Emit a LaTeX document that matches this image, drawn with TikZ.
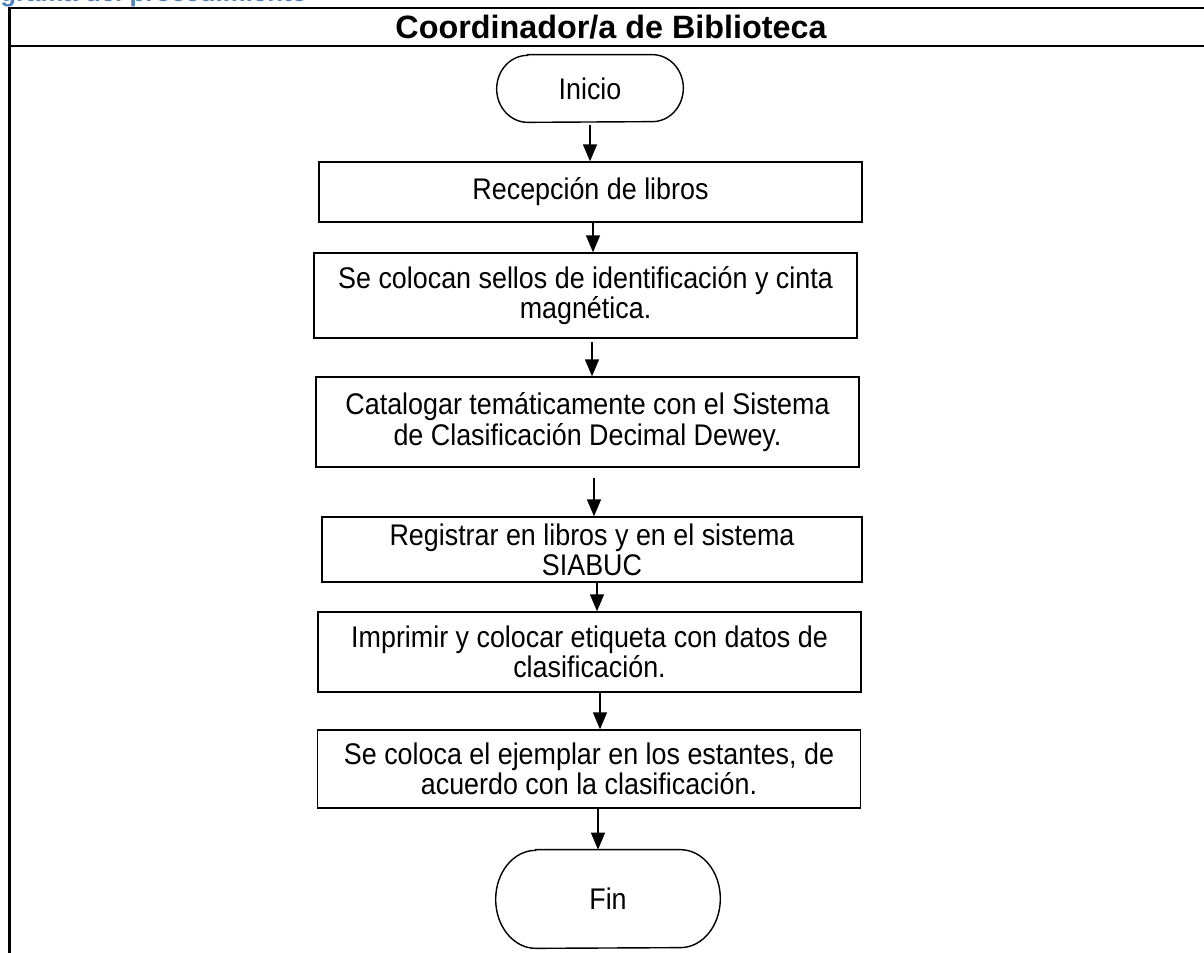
\documentclass[tikz,border=0pt]{standalone}
\usepackage{fontspec}
\setmainfont{Liberation Sans}
\newfontfamily\boxfont{Liberation Sans}[FakeStretch=0.9]
\usetikzlibrary{arrows.meta,positioning,calc}
\definecolor{titleblue}{RGB}{79,129,189}

\begin{document}
\begin{tikzpicture}[x=0.02cm,y=-0.02cm,>={Triangle[length=0.34cm,width=0.28cm]},
  stepbox/.style={draw,line width=0.8pt,minimum width=10.86cm,align=center,inner sep=0pt,font=\boxfont\fontsize{17}{17.2}\selectfont},
  endbox/.style={inner sep=0pt,font=\boxfont\fontsize{17}{17.2}\selectfont},
  flow/.style={->,line width=0.8pt}]
\useasboundingbox (0,0) rectangle (1204,953);
\clip (0,0) rectangle (1204,953);
% frame of the table
\node[anchor=base west,inner sep=0pt,text=titleblue,font=\bfseries\fontsize{14.7}{16}\selectfont] (cap) at (0,2) {grama del procedimiento};
\draw[line width=1.3pt] (1260,8) -- (9.5,8) -- (9.5,990);
\draw[line width=1.3pt] (9.5,46) -- (1260,46);
\node[font=\bfseries\fontsize{18.4}{20}\selectfont] (head) at (611,27) {Coordinador/a de Biblioteca};
% steps
\node[endbox,minimum width=3.72cm,minimum height=1.34cm] (ini) at (590,88.5) {Inicio};
\node[stepbox,minimum height=1.2cm] (rec) at (590.5,192) {Recepción de libros};
\node[stepbox,minimum height=1.7cm] (sel) at (585.5,295.5) {Se colocan sellos de identificación y cinta\\magnética.};
\node[stepbox,minimum height=1.8cm] (cat) at (587.5,422) {Catalogar temáticamente con el Sistema\\de Clasificación Decimal Dewey.};
\node[stepbox,minimum width=10.8cm,minimum height=1.3cm] (reg) at (592,549.5) {Registrar en libros y en el sistema\\SIABUC};
\node[stepbox,minimum height=1.6cm] (imp) at (589.5,652) {Imprimir y colocar etiqueta con datos de\\clasificación.};
\node[stepbox,minimum height=1.56cm] (est) at (589,769) {Se coloca el ejemplar en los estantes, de\\acuerdo con la clasificación.};
\node[endbox,minimum width=4.48cm,minimum height=1.96cm] (fin) at (608,899) {Fin};
% terminal outlines
\draw[line width=0.8pt] ([xshift=0.62cm]ini.north west) -- ([xshift=-0.62cm]ini.north east)
  arc[start angle=90,end angle=-90,x radius=0.62cm,y radius=0.67cm]
  -- ([xshift=0.62cm]ini.south west)
  arc[start angle=270,end angle=90,x radius=0.62cm,y radius=0.67cm] -- cycle;
\draw[line width=0.8pt] ([xshift=0.8cm]fin.north west) -- ([xshift=-0.8cm]fin.north east)
  arc[start angle=90,end angle=-90,x radius=0.8cm,y radius=0.98cm]
  -- ([xshift=0.8cm]fin.south west)
  arc[start angle=270,end angle=90,x radius=0.8cm,y radius=0.98cm] -- cycle;
% connectors
\draw[flow] ([yshift=-0.06cm]ini.south) -- (ini.south |- rec.north);
\draw[flow] ([xshift=0.05cm]rec.south) -- ([xshift=0.05cm]rec.south |- sel.north);
\draw[flow] ([yshift=-0.06cm,xshift=0.13cm]sel.south) -- ([xshift=0.13cm]sel.south |- cat.north);
\draw[flow] ([yshift=-0.2cm,xshift=0.13cm]cat.south) -- ([xshift=0.13cm]cat.south |- reg.north);
\draw[flow] ([xshift=0.1cm]reg.south) -- ([xshift=0.1cm]reg.south |- imp.north);
\draw[flow] ([xshift=0.21cm]imp.south) -- ([xshift=0.21cm]imp.south |- est.north);
\draw[flow] ([xshift=0.18cm]est.south) -- ([xshift=0.18cm]est.south |- fin.north);
\end{tikzpicture}
\end{document}
